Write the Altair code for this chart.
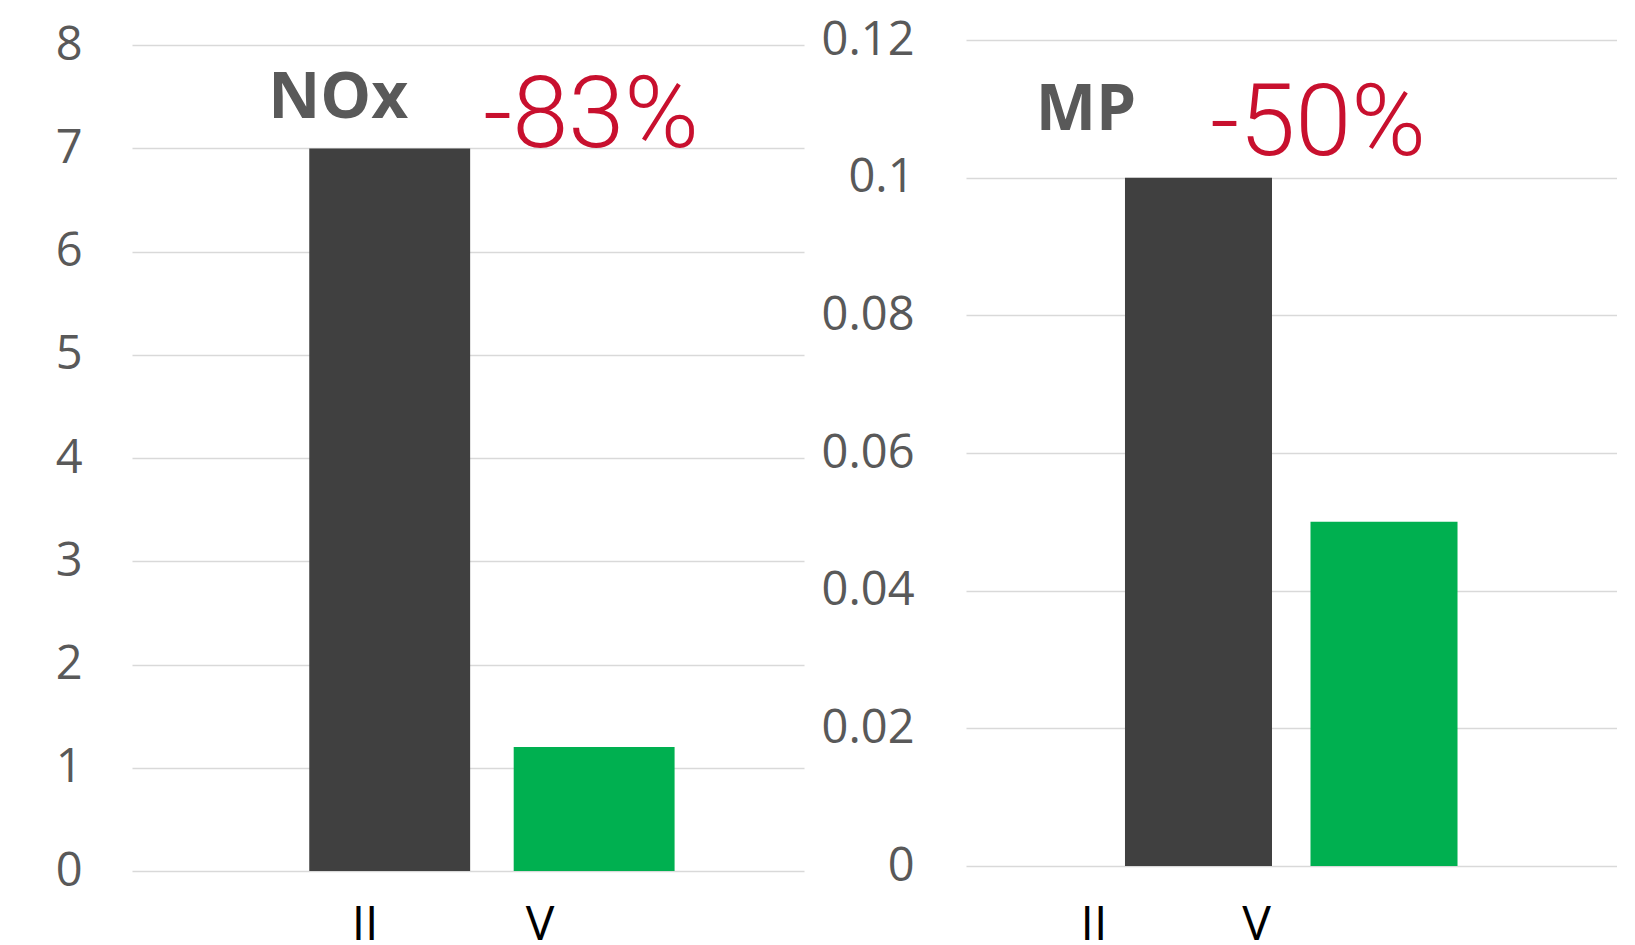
import altair as alt
import pandas as pd

categories = ["II", "V"]
nox_values = [7.0, 1.2]
mp_values = [0.1, 0.05]
bar_colors = ["#404040", "#00B050"]
nox_ticks = [0, 1, 2, 3, 4, 5, 6, 7, 8]
mp_ticks = [0, 0.02, 0.04, 0.06, 0.08, 0.1, 0.12]
pollutants = ["NOx", "MP"]
changes = ["-83%", "-50%"]
title_levels = [7.29, 0.1069]
change_levels = [7.01, 0.1033]

GRID = "#D9D9D9"
TICK_GREY = "#595959"
RED = "#C8102E"


def panel(values, ticks, ydomain, width, height, bar_scale, label_scale,
          title, change, t_level, c_level, title_dx, change_dx, extent, label_pad,
          x_label_pad):
    df = pd.DataFrame({"cat": categories, "value": values, "color": bar_colors})
    y_enc = alt.Y(
        "value:Q",
        scale=alt.Scale(domain=ydomain, nice=False, zero=True),
        axis=alt.Axis(values=ticks, format=".2~f", title=None, domain=False, ticks=False,
                      grid=True, gridColor=GRID, gridWidth=1.5,
                      labelFont="Open Sans", labelFontSize=47, labelColor=TICK_GREY,
                      labelPadding=label_pad, minExtent=extent, maxExtent=extent,
                      labelBaseline="middle"),
    )
    x_bar = alt.X("cat:N", sort=categories, scale=bar_scale, axis=None)
    bars = alt.Chart(df).mark_bar().encode(
        x=x_bar, y=y_enc, color=alt.Color("color:N", scale=None)
    )
    tdf = pd.DataFrame({"cat": ["II"], "value": [t_level], "text": [title]})
    cdf = pd.DataFrame({"cat": ["V"], "value": [c_level], "text": [change]})
    title_txt = alt.Chart(tdf).mark_text(
        font="Open Sans", fontSize=64, fontWeight="bold", color=TICK_GREY,
        align="center", baseline="alphabetic", dx=title_dx
    ).encode(x=x_bar, y=y_enc, text="text:N")
    change_txt = alt.Chart(cdf).mark_text(
        font="Roboto", fontSize=101, fontWeight=300,
        color=RED, align="center", baseline="alphabetic", dx=change_dx
    ).encode(x=x_bar, y=y_enc, text="text:N")
    inner = alt.layer(bars, title_txt, change_txt)
    labels = alt.Chart(df).mark_point(opacity=0).encode(
        x=alt.X("cat:N", sort=categories, scale=label_scale,
                axis=alt.Axis(orient="bottom", title=None, labelAngle=0, domain=False,
                              ticks=False, grid=False, labelFont="Open Sans",
                              labelFontSize=48, labelColor="#000000",
                              labelPadding=x_label_pad)),
        y=y_enc,
    )
    return alt.layer(inner, labels).resolve_scale(x="independent").properties(
        width=width, height=height
    )


left = panel(
    nox_values, nox_ticks, [0, 8.05], 672, 831,
    alt.Scale(type="band", domain=categories, paddingInner=0.213, paddingOuter=0.75, align=0.578),
    alt.Scale(type="band", domain=categories, paddingInner=0.16, paddingOuter=1, align=0.456),
    pollutants[0], changes[0], title_levels[0], change_levels[0], -51.5, -3, 119, 50, 30,
)
right = panel(
    mp_values, mp_ticks, [0, 0.12], 650.5, 826,
    alt.Scale(type="band", domain=categories, paddingInner=0.2075, paddingOuter=0.857, align=0.5),
    alt.Scale(type="band", domain=categories, paddingInner=0, paddingOuter=1, align=0.1436),
    pollutants[1], changes[1], title_levels[1], change_levels[1], -112.5, -66, 161.5, 52, 35,
)

chart = alt.hconcat(left, right, spacing=0).properties(
    padding={"left": 5, "top": 8, "right": 5, "bottom": 5}
).configure_view(stroke=None)

chart.save("out.html", embed_options={"renderer": "svg", "actions": False})
